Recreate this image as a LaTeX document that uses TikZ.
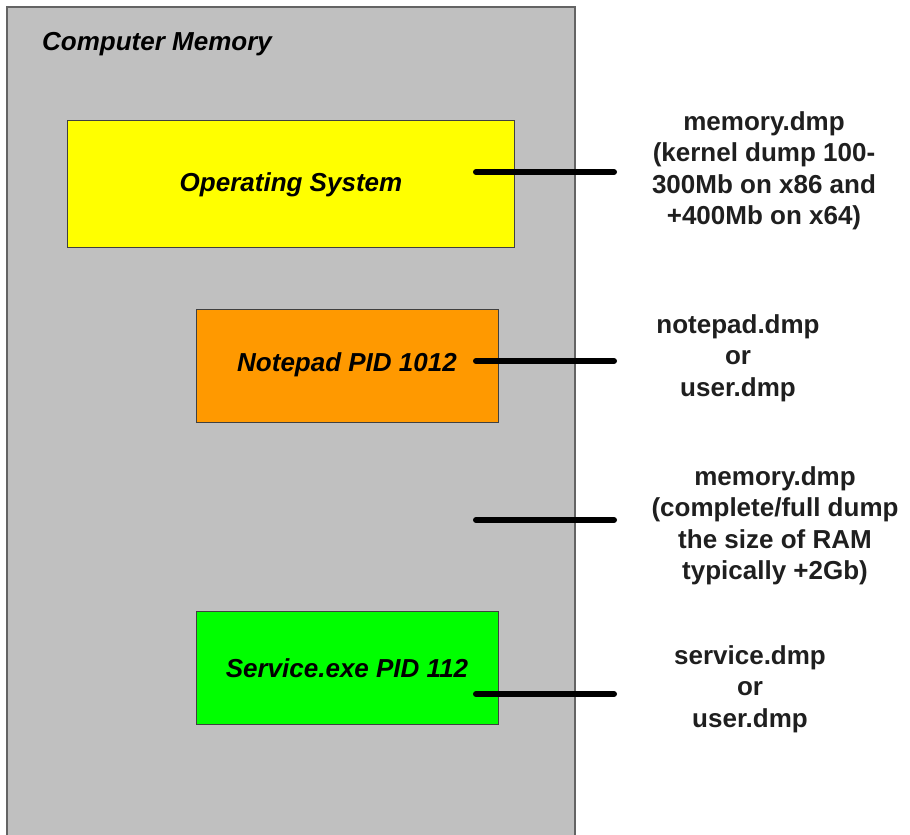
\documentclass[tikz,border=0pt]{standalone}
\usepackage{fontspec}
\setmainfont{Liberation Sans}
\begin{document}
\begin{tikzpicture}[x=1pt,y=-1pt,
  memtext/.style={font=\fontsize{26}{31.5}\selectfont\bfseries\itshape, text=black, inner sep=0pt},
  procbox/.style={draw=black!75, line width=1.4pt, inner sep=0pt, anchor=north west},
  dumplabel/.style={font=\fontsize{26}{31.5}\selectfont\bfseries, text=black!88, align=center, inner sep=0pt},
  link/.style={line width=6pt, line cap=round, black}]
\useasboundingbox (0,0) rectangle (910,835);
% memory container (open at the bottom)
\fill[fill={rgb,255:red,192;green,192;blue,192}] (7,7) rectangle (575,835);
\draw[line width=2pt, draw={rgb,255:red,100;green,100;blue,100}] (7,835) -- (7,7) -- (575,7) -- (575,835);
\node[memtext, anchor=west] (title) at (42,44) {Computer Memory};
% process boxes
\node[procbox, fill={rgb,255:red,255;green,255;blue,0}, minimum width=447, minimum height=127] (os) at (67,120) {};
\node[memtext] (ostext) at (291,185) {Operating System};
\node[procbox, fill={rgb,255:red,255;green,153;blue,0}, minimum width=302, minimum height=113] (np) at (196,309) {};
\node[memtext] (nptext) at (347,365) {Notepad PID 1012};
\node[procbox, fill={rgb,255:red,0;green,255;blue,0}, minimum width=302, minimum height=113] (sv) at (196,611) {};
\node[memtext] (svtext) at (347,668) {Service.exe PID 112};
% dump labels
\node[dumplabel] (l1) at (764,171) {memory.dmp\\(kernel dump 100-\\300Mb on x86 and\\+400Mb on x64)};
\node[dumplabel] (l2) at (738,358) {notepad.dmp\\or\\user.dmp};
\node[dumplabel] (l3) at (775,526) {memory.dmp\\(complete/full dump\\the size of RAM\\typically +2Gb)};
\node[dumplabel] (l4) at (750,689) {service.dmp\\or\\user.dmp};
% connectors
\coordinate (a1) at (476,172); \coordinate (b1) at (614,172);
\coordinate (a2) at (476,361); \coordinate (b2) at (614,361);
\coordinate (a3) at (476,520); \coordinate (b3) at (614,520);
\coordinate (a4) at (476,694); \coordinate (b4) at (614,694);
\draw[link] (a1) -- (b1);
\draw[link] (a2) -- (b2);
\draw[link] (a3) -- (b3);
\draw[link] (a4) -- (b4);
\end{tikzpicture}
\end{document}
